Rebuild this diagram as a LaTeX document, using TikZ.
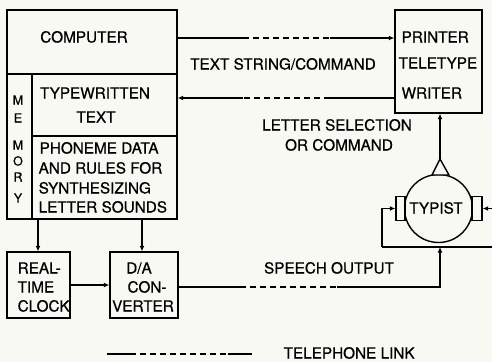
\documentclass[tikz,border=0pt]{standalone}
\usepackage{fontspec}
\setmainfont{TeX Gyre Heros}[FakeBold=0.6]
\usetikzlibrary{arrows.meta,calc}
\definecolor{paper}{RGB}{249,249,244}
\begin{document}
\begin{tikzpicture}[x=1pt,y=-1pt, line width=1.3pt,
  box/.style={draw, rectangle, inner sep=0pt, line width=1.4pt},
  txt/.style={font=\fontsize{15.3}{18}\selectfont, inner sep=0pt, text height=11pt, text depth=0pt},
  memtxt/.style={font=\fontsize{12.5}{14}\selectfont, inner sep=0pt, text height=9pt, text depth=0pt},
  tip/.style={-{Latex[length=5.5pt,width=5pt]}},
  tel/.style={dash pattern=on 6pt off 4pt}]
\fill[paper] (0,0) rectangle (492,362);
\useasboundingbox (0,0) rectangle (492,362);

% boxes
\node[box, minimum width=170pt, minimum height=64pt] (comp) at (92,42) {};
\node[box, minimum width=25pt, minimum height=145pt] (mem) at (19.5,146.5) {};
\node[box, minimum width=145pt, minimum height=62pt] (tw) at (104.5,105) {};
\node[box, minimum width=145pt, minimum height=83pt] (phon) at (104.5,177.5) {};
\node[box, minimum width=63pt, minimum height=66pt] (clock) at (38.5,285) {};
\node[box, minimum width=68pt, minimum height=66pt] (da) at (144,285) {};
\node[box, minimum width=87pt, minimum height=103pt] (printer) at (438.5,61.5) {};
\node[draw, circle, line width=1.4pt, minimum size=68pt, inner sep=0pt] (typ) at (438.5,208.5) {};
\node[box, fill=paper, minimum width=9pt, minimum height=24pt] (lear) at (400.5,208.5) {};
\node[box, fill=paper, minimum width=10pt, minimum height=24pt] (rear) at (477,208.5) {};

% texts
\node[txt] (tcomp) at (84,37) {COMPUTER};
\node[txt] (ttw1) at (95,93) {TYPEWRITTEN};
\node[txt] (ttw2) at (96,117) {TEXT};
\node[txt, anchor=west] (tph1) at (39,148) {PHONEME DATA};
\node[txt, anchor=west] (tph2) at (38,168) {AND RULES FOR};
\node[txt, anchor=west] (tph3) at (38,188) {SYNTHESIZING};
\node[txt, anchor=west] (tph4) at (38,207) {LETTER SOUNDS};
\node[memtxt] (m1) at (18,100) {M};
\node[memtxt] (m2) at (18,118) {E};
\node[memtxt] (m3) at (18,145) {M};
\node[memtxt] (m4) at (18,161) {O};
\node[memtxt] (m5) at (18,177) {R};
\node[memtxt] (m6) at (18,198) {Y};
\node[txt, anchor=west] (tc1) at (17,268) {REAL-};
\node[txt, anchor=west] (tc2) at (17,287) {TIME};
\node[txt, anchor=west] (tc3) at (17,306) {CLOCK};
\node[txt] (td1) at (139,268) {D/A};
\node[txt] (td2) at (147,287) {CON-};
\node[txt] (td3) at (143,306) {VERTER};
\node[txt, anchor=west] (tp1) at (401,37) {PRINTER};
\node[txt, anchor=west] (tp2) at (398,63) {TELETYPE};
\node[txt, anchor=west] (tp3) at (401,93) {WRITER};
\node[txt] (ttyp) at (436,208) {TYPIST};
\node[txt] (tts) at (283,64) {TEXT STRING/COMMAND};
\node[txt] (tls1) at (337,125) {LETTER SELECTION};
\node[txt] (tls2) at (339,145) {OR COMMAND};
\node[txt] (tsp) at (329,268) {SPEECH OUTPUT};
\node[txt, anchor=west] (tleg) at (283,353) {TELEPHONE LINK};

% computer -> printer
\coordinate (a1) at (243,38);
\coordinate (a2) at (330,38);
\draw (comp.east |- a1) -- (a1);
\draw[tel] (a1) -- (a2);
\draw[tip] (a2) -- (printer.west |- a2);

% printer -> typewritten text
\coordinate (b1) at (330,98);
\coordinate (b2) at (243,98);
\draw (printer.west |- b1) -- (b1);
\draw[tel] (b1) -- (b2);
\draw[tip] (b2) -- (tw.east |- b2);

% memory -> clock, D/A
\coordinate (p1) at (38,219);
\coordinate (p2) at (142,219);
\draw[tip] (p1) -- (clock.north -| p1);
\draw[tip] (p2) -- (da.north -| p2);
\draw[tip] (clock.east) -- (da.west);

% speech output
\coordinate (c1) at (240,287);
\coordinate (c2) at (337,287);
\coordinate (c3) at (440,287);
\coordinate (lc) at (382,247);
\coordinate (rc) at (496,247);
\draw (da.east |- c1) -- (c1);
\draw[tel] (c1) -- (c2);
\draw[tip] (c2) -- (c3) -- (c3 |- lc);

% feedback loop (headphones)
\draw[tip] (lc) -- (lc |- lear) -- (lear.west);
\draw[tip] (lc) -- (rc) -- (rc |- rear) -- (rear.east);

% typist -> printer
\coordinate (tri) at (440,159);
\draw[line width=1.4pt, line join=miter, fill=paper] (432,175) -- (tri) -- (449,175) -- cycle;
\draw[tip] (tri) -- (printer.south -| tri);

% legend
\coordinate (g0) at (107,354);
\coordinate (g1) at (130,354);
\coordinate (g2) at (228,354);
\coordinate (g3) at (252,354);
\draw (g0) -- (g1);
\draw[tel] (g1) -- (g2);
\draw (g2) -- (g3);
\end{tikzpicture}
\end{document}
